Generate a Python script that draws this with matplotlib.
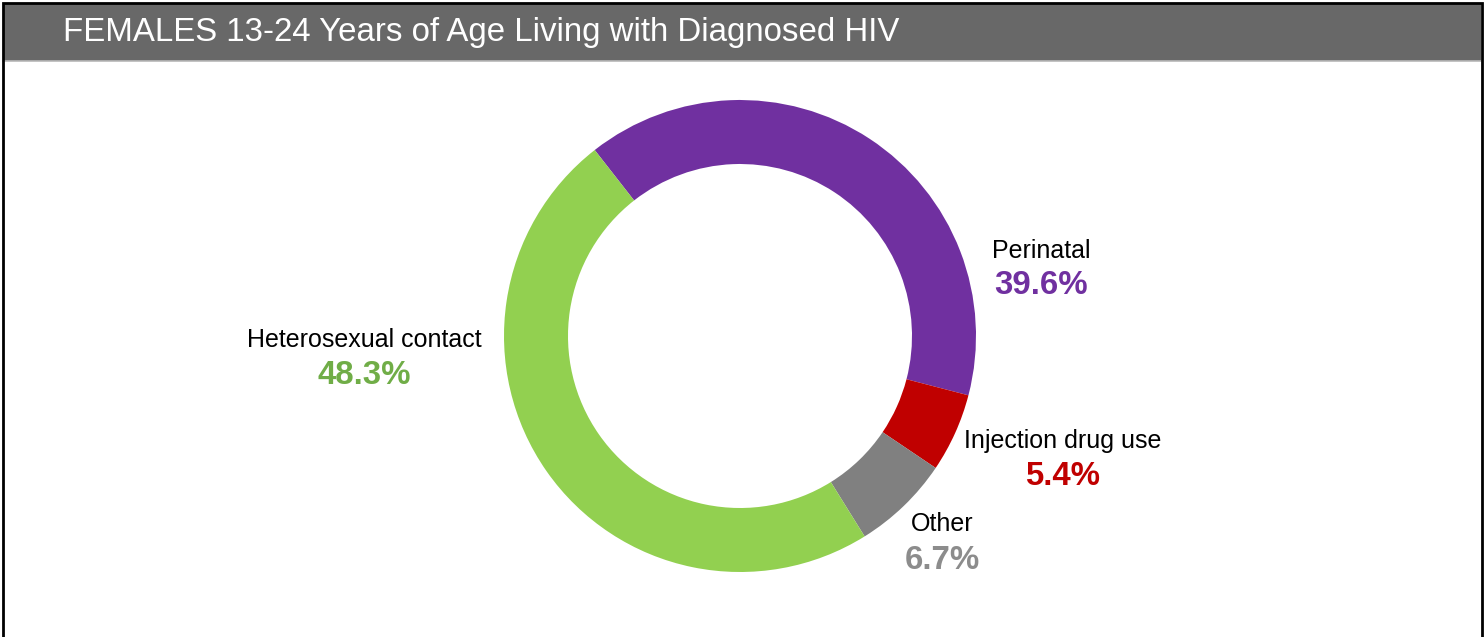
import matplotlib
matplotlib.use("Agg")
import matplotlib.pyplot as plt
from matplotlib.patches import Rectangle

plt.rcParams['font.family'] = ['Liberation Sans', 'DejaVu Sans']

title = "FEMALES 13-24 Years of Age Living with Diagnosed HIV"
categories = ["Perinatal", "Injection drug use", "Other", "Heterosexual contact"]
shares = [39.6, 5.4, 6.7, 48.3]
slice_colors = ["#7030A0", "#C00000", "#808080", "#92D050"]
pct_colors = ["#7030A0", "#C00000", "#8C8C8C", "#70AD47"]

W, H = 1484, 637
# label anchors in pixels: x centre, name baseline, percent baseline (from top)
label_pos = {
    "Perinatal": (1041, 258, 294),
    "Injection drug use": (1063, 448, 485),
    "Other": (942, 531, 569),
    "Heterosexual contact": (364, 347, 384),
}

fig = plt.figure(figsize=(W / 100, H / 100), dpi=100)
ax = fig.add_axes([0, 0, 1, 1])

ax.pie(shares, colors=slice_colors, startangle=128, counterclock=False,
       center=(740, H - 336), radius=236,
       wedgeprops=dict(width=64, linewidth=0))
ax.set_xlim(0, W)
ax.set_ylim(0, H)
ax.set_aspect('equal')
ax.axis('off')

# title bar
ax.add_patch(Rectangle((3, H - 61), W - 6, 57, facecolor="#686868", edgecolor="none"))
ax.plot([3, W - 3], [H - 61, H - 61], color="#b8b8b8", lw=1.2)
ax.text(63, H - 41, title, color="white", fontsize=23.8, va="baseline", ha="left")

# outer border
ax.plot([2.5, 2.5, W - 2.5, W - 2.5], [0, H - 3, H - 3, 0], color="black", lw=2,
        solid_joinstyle="miter")

for cat, val, col in zip(categories, shares, pct_colors):
    x, y1, y2 = label_pos[cat]
    ax.text(x, H - y1, cat, fontsize=18, color="black", ha="center", va="baseline")
    ax.text(x, H - y2, f"{val:.1f}%", fontsize=23.8, fontweight="bold",
            color=col, ha="center", va="baseline")

fig.savefig("out.png", dpi=100, facecolor="white")
